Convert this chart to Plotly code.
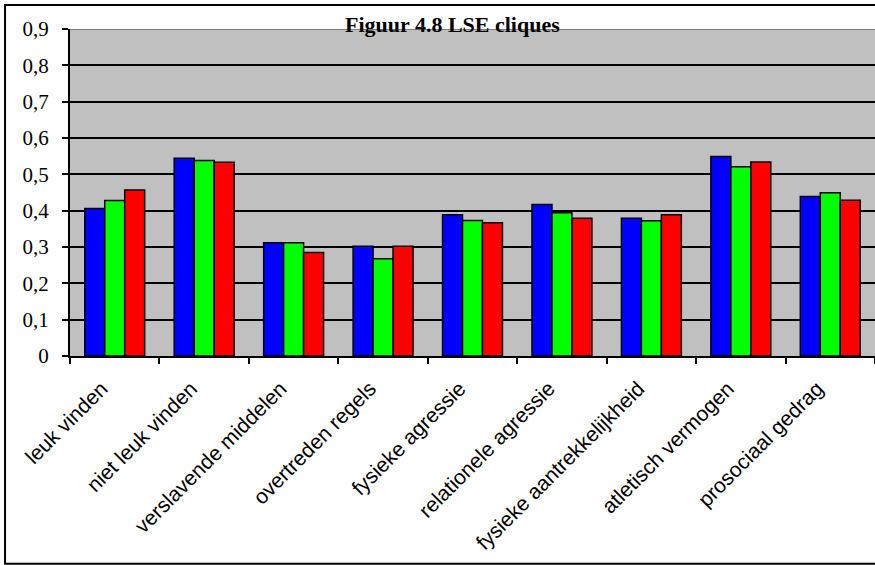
import plotly.graph_objects as go

categories = ["leuk vinden", "niet leuk vinden", "verslavende middelen", "overtreden regels",
              "fysieke agressie", "relationele agressie", "fysieke aantrekkelijkheid",
              "atletisch vermogen", "prosociaal gedrag"]
series_blue = [0.406, 0.544, 0.312, 0.302, 0.389, 0.417, 0.379, 0.549, 0.439]
series_green = [0.428, 0.538, 0.312, 0.268, 0.373, 0.394, 0.372, 0.521, 0.449]
series_red = [0.457, 0.533, 0.285, 0.302, 0.367, 0.379, 0.389, 0.534, 0.429]
y_tickvals = [0, 0.1, 0.2, 0.3, 0.4, 0.5, 0.6, 0.7, 0.8, 0.9]
y_ticktext = ["0", "0,1", "0,2", "0,3", "0,4", "0,5", "0,6", "0,7", "0,8", "0,9"]

fig = go.Figure()
for name, vals, col in [("reeks 1", series_blue, "#0000FF"),
                        ("reeks 2", series_green, "#00FF00"),
                        ("reeks 3", series_red, "#FF0000")]:
    fig.add_trace(go.Bar(x=categories, y=vals, name=name,
                         marker=dict(color=col, line=dict(color="black", width=1.5))))

fig.update_layout(
    width=875, height=565,
    margin=dict(l=70, r=0, t=29, b=209, autoexpand=False),
    barmode="group", bargap=0.33, bargroupgap=0,
    plot_bgcolor="#C0C0C0", paper_bgcolor="white",
    showlegend=False,
    annotations=[dict(text="<b>Figuur 4.8 LSE cliques</b>", xref="paper", yref="paper",
                      x=(452 - 70) / 805, y=1.015, showarrow=False, xanchor="center", yanchor="middle",
                      font=dict(family="Liberation Serif", size=22, color="black"))],
    shapes=[
        dict(type="line", xref="paper", yref="y", x0=0, x1=1, y0=0.9, y1=0.9,
             line=dict(color="#808080", width=2), layer="below"),
        dict(type="rect", xref="paper", yref="paper", x0=-0.0807, x1=1.02,
             y0=-0.635, y1=1.0736, line=dict(color="black", width=2), layer="above"),
    ],
)
fig.update_yaxes(range=[0, 0.9], tickvals=y_tickvals, ticktext=y_ticktext,
                 showgrid=True, gridcolor="black", gridwidth=1.5,
                 showline=True, linecolor="black", linewidth=2,
                 ticks="outside", ticklen=6, tickcolor="black", tickwidth=1.5,
                 ticklabelstandoff=9,
                 tickfont=dict(family="Liberation Serif", size=21, color="black"),
                 zeroline=False, automargin=False)
fig.update_xaxes(showline=True, linecolor="black", linewidth=2,
                 ticks="outside", tickson="boundaries", ticklen=6, tickcolor="black", tickwidth=1.5,
                 tickangle=-45, automargin=False,
                 ticklabelshift=-13, ticklabelstandoff=10,
                 tickfont=dict(family="Liberation Sans", size=21, color="black"))

fig.write_html("out.html", post_script="document.body.style.margin='0';",
               config={"displayModeBar": False})
